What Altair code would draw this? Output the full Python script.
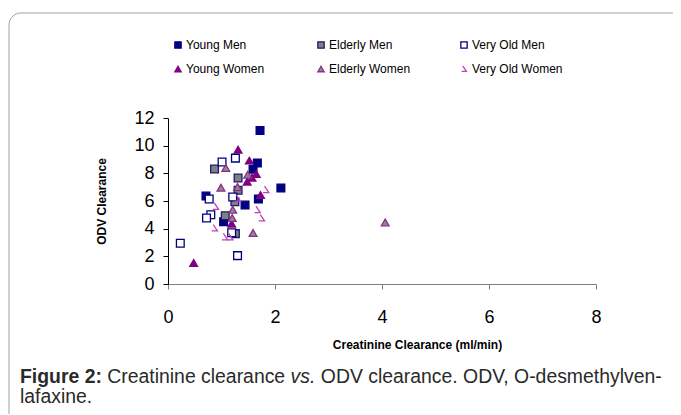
import altair as alt
import pandas as pd

groups = ["Young Men", "Elderly Men", "Very Old Men", "Young Women", "Elderly Women", "Very Old Women"]

young_men_x = [1.72, 1.67, 1.59, 2.11, 0.71, 1.69, 1.44, 1.04]
young_men_y = [11.1, 8.75, 8.3, 6.94, 6.36, 6.14, 5.71, 4.5]
elderly_men_x = [0.87, 1.31, 1.31, 1.25, 1.07, 1.26]
elderly_men_y = [8.31, 7.66, 6.77, 5.95, 4.94, 3.64]
very_old_men_x = [1.01, 1.26, 0.77, 1.21, 0.80, 0.72, 1.19, 0.23, 1.30]
very_old_men_y = [8.82, 9.1, 6.14, 6.29, 5.01, 4.77, 3.71, 2.94, 2.05]
young_women_x = [1.31, 1.52, 1.65, 1.57, 1.48, 1.73, 1.19, 0.48]
young_women_y = [9.71, 8.92, 7.95, 7.69, 7.40, 6.43, 4.36, 1.52]
elderly_women_x = [1.08, 0.99, 1.30, 1.49, 1.21, 1.20, 1.59, 4.06]
elderly_women_y = [8.39, 6.96, 7.01, 7.90, 5.37, 4.77, 3.69, 4.45]
very_old_women_x = [1.83, 1.30, 0.89, 1.67, 1.75, 0.87, 1.06, 1.16]
very_old_women_y = [6.82, 6.2, 5.61, 5.37, 4.77, 4.05, 3.40, 3.40]

x_ticks = [0, 2, 4, 6, 8]
y_ticks = [0, 2, 4, 6, 8, 10, 12]

series = [
    (groups[0], young_men_x, young_men_y),
    (groups[1], elderly_men_x, elderly_men_y),
    (groups[2], very_old_men_x, very_old_men_y),
    (groups[3], young_women_x, young_women_y),
    (groups[4], elderly_women_x, elderly_women_y),
    (groups[5], very_old_women_x, very_old_women_y),
]
rows = []
for name, xs, ys in series:
    for xv, yv in zip(xs, ys):
        rows.append({"group": name, "crcl": xv, "odv": yv})
df = pd.DataFrame(rows)

FONT = "Liberation Sans"
hook = "M -0.35 -0.9 L 0.75 0.75 L -0.75 0.75"

shape_range = ["square", "square", "square", "triangle-up", "triangle-up", hook]
fill_range = ["#000080", "#808080", "#ffffff", "#800080", "#8c8c8c", "transparent"]
stroke_range = ["#000080", "#1a1a70", "#000080", "#800080", "#8a2d8a", "#c040c0"]

points = alt.Chart(df).mark_point(opacity=1, strokeWidth=1.3, size=60).encode(
    x=alt.X("crcl:Q", scale=alt.Scale(domain=[0, 8], nice=False),
            axis=alt.Axis(values=x_ticks, title="Creatinine Clearance (ml/min)", grid=False,
                          domainColor="#808080", tickColor="#808080", tickSize=5,
                          labelFontSize=18, labelPadding=19, labelColor="#000",
                          labelFlush=False, labelOverlap=False,
                          titleX=249, titleY=60, titleBaseline="middle",
                          titleFontSize=12, titleFontWeight="bold", titleColor="#000")),
    y=alt.Y("odv:Q", scale=alt.Scale(domain=[0, 12], nice=False),
            axis=alt.Axis(values=y_ticks, title="ODV Clearance", grid=False,
                          domainColor="#000", tickColor="#000", tickSize=5,
                          labelFontSize=18, labelPadding=9, labelColor="#000",
                          labelFlush=False, labelOverlap=False,
                          titlePadding=25,
                          titleFontSize=12, titleFontWeight="bold", titleColor="#000")),
    shape=alt.Shape("group:N", scale=alt.Scale(domain=groups, range=shape_range), title=None),
    fill=alt.Fill("group:N", scale=alt.Scale(domain=groups, range=fill_range), title=None),
    stroke=alt.Stroke("group:N", scale=alt.Scale(domain=groups, range=stroke_range), title=None),
)

frame = alt.Chart(alt.Data(values=[{}])).mark_rect(
    fill="transparent", stroke="#a0a0a0", strokeWidth=1, cornerRadius=12
).encode(x=alt.value(-159), x2=alt.value(700), y=alt.value(-105), y2=alt.value(500))

cap_y1 = 383 - 118
cap_y2 = 403 - 118
x0 = 20 - 168
cap = [
    ("Figure 2:", x0, cap_y1, "bold", "normal"),
    ("Creatinine clearance", x0 + 87.3, cap_y1, "normal", "normal"),
    ("vs.", x0 + 270.6, cap_y1, "normal", "italic"),
    ("ODV clearance. ODV, O-desmethylven-", x0 + 300.8, cap_y1, "normal", "normal"),
    ("lafaxine.", x0, cap_y2, "normal", "normal"),
]
cap_layers = []
for txt, cx, cy, fw, fs in cap:
    cap_layers.append(
        alt.Chart(alt.Data(values=[{}])).mark_text(
            text=txt, align="left", baseline="alphabetic", font=FONT, fontSize=19.4,
            fontWeight=fw, fontStyle=fs, color="#2a2a2a"
        ).encode(x=alt.value(cx), y=alt.value(cy))
    )

chart = alt.layer(frame, points, *cap_layers).properties(
    width=428, height=166,
    padding={"left": 160, "top": 110, "right": 77, "bottom": 130},
    autosize=alt.AutoSizeParams(type="none"),
).configure(font=FONT).configure_view(stroke=None).configure_legend(
    orient="none", legendX=4, legendY=-79, columns=3, direction="horizontal", gridAlign="all",
    columnPadding=38, rowPadding=12, labelFontSize=12, labelFont=FONT,
    labelColor="#000", symbolSize=40, symbolStrokeWidth=1.3, labelOffset=2,
)

chart.save("out.html", embed_options={"renderer": "svg", "actions": False})
